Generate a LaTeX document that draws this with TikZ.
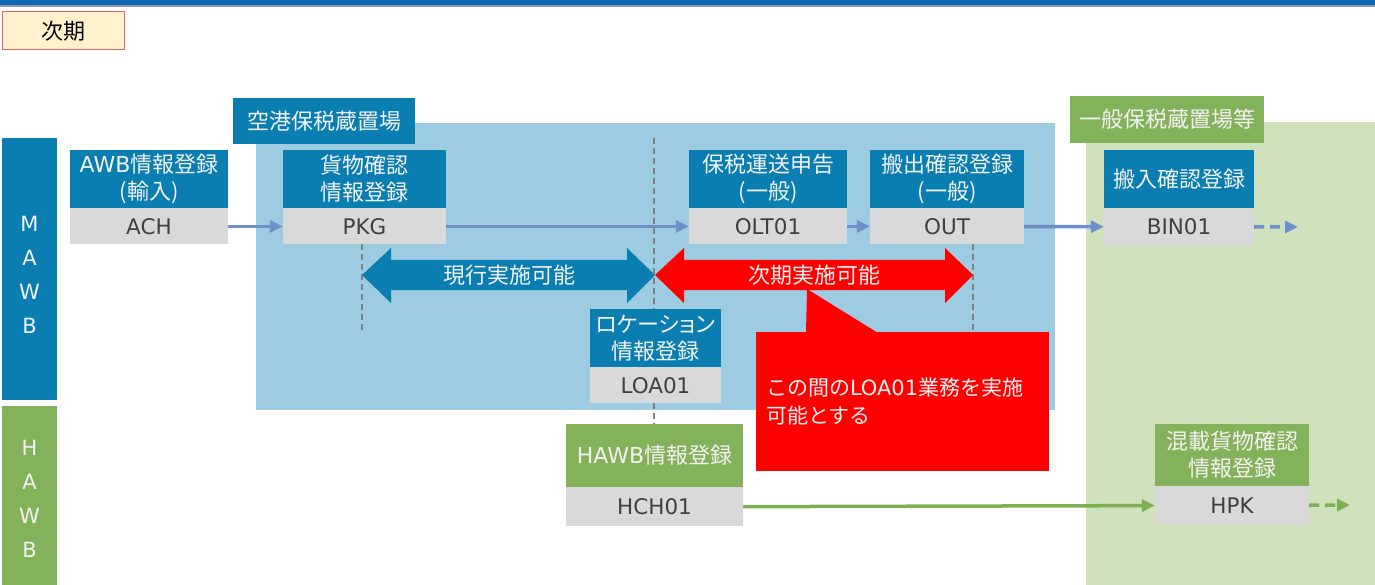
\documentclass[tikz,border=0pt]{standalone}
\usepackage{fontspec}
\newfontfamily\jpfont{Noto Sans CJK JP}
\newfontfamily\jpprop[RawFeature=+palt]{Noto Sans CJK JP}
\newfontfamily\latfont{DejaVu Sans}
\usetikzlibrary{positioning,arrows.meta}
\definecolor{topblue}{HTML}{1168B4}
\definecolor{topgrey}{HTML}{8E9AA6}
\definecolor{hdrblue}{HTML}{0A7EB1}
\definecolor{hdrgreen}{HTML}{84B25A}
\definecolor{areablue}{HTML}{9DCBE1}
\definecolor{areagreen}{HTML}{D0E1BD}
\definecolor{codegrey}{HTML}{D9D9D9}
\definecolor{codetext}{HTML}{404040}
\definecolor{flowblue}{HTML}{6E8FC9}
\definecolor{flowgreen}{HTML}{7DB050}
\definecolor{notered}{HTML}{FF0000}
\definecolor{tagfill}{HTML}{FFF2CC}
\definecolor{tagline}{HTML}{E06666}
\newcommand{\lt}[1]{{\latfont #1}}

\begin{document}
\begin{tikzpicture}[x=1pt,y=-1pt,
  big/.style={font=\jpfont\fontsize{22}{27}\selectfont},
  hdr/.style={big,fill=hdrblue,text=white!95!black,inner sep=0pt,align=center,minimum height=58pt},
  hdrg/.style={hdr,fill=hdrgreen},
  code/.style={fill=codegrey,text=codetext,inner sep=0pt,minimum height=36pt,
    font=\latfont\fontsize{21.5}{27}\selectfont},
  bar/.style={inner sep=0pt,minimum width=55pt},
  bartext/.style={text=white!95!black,inner sep=0pt,align=center,
    font=\latfont\fontsize{21}{34}\selectfont},
  area/.style={big,text=white!95!black,inner sep=0pt},
  flow/.style={flowblue,line width=3.5pt,-{Triangle[length=13pt,width=12pt]}},
  vdash/.style={gray,line width=2pt,dash pattern=on 6pt off 4pt},
  every node/.style={node distance=0pt}]
\useasboundingbox (0,0) rectangle (1375,585);
\fill[topblue] (0,0) rectangle (1375,5);
\fill[topgrey] (0,5) rectangle (1375,7);
\node[big,fill=tagfill,draw=tagline,line width=1pt,minimum width=122pt,minimum height=38pt,inner sep=0pt] (tag) at (63,31) {次期};
%
% areas
\fill[areablue] (256,123) rectangle (1055,410);
\fill[areagreen] (1086,122) rectangle (1375,585);
\node[area,fill=hdrblue,minimum width=182pt,minimum height=46pt] (airport) at (324,121) {空港保税蔵置場};
\node[area,fill=hdrgreen,minimum width=194pt,minimum height=47pt] (general) at (1167,119.5) {一般保税蔵置場等};
%
\node[bar,fill=hdrblue,minimum height=262pt] (mawb) at (29.5,269) {};
\node[bartext] (mawbtxt) at (29.5,275) {M\\A\\W\\B};
\node[bar,fill=hdrgreen,minimum height=179pt] (hawb) at (29.5,495.5) {};
\node[bartext] (hawbtxt) at (29.5,499) {H\\A\\W\\B};
%
% dashed marks
\draw[vdash] (362,244) -- (362,330);
\draw[vdash] (654,138) -- (654,309);
\draw[vdash] (654,403) -- (654,424);
\draw[vdash] (973,244) -- (973,330);
%
% process boxes
\node[hdr,minimum width=158pt] (achT) at (149,179) {\lt{AWB}情報登録\\(輸入)};
\node[code,minimum width=158pt,below=of achT] (ach) {ACH};
\node[hdr,minimum width=163pt] (pkgT) at (364.5,179) {貨物確認\\情報登録};
\node[code,minimum width=163pt,below=of pkgT] (pkg) {PKG};
\node[hdr,minimum width=158pt] (oltT) at (768,179) {保税運送申告\\(一般)};
\node[code,minimum width=158pt,below=of oltT] (olt) {OLT01};
\node[hdr,minimum width=154pt] (outT) at (947,179) {搬出確認登録\\(一般)};
\node[code,minimum width=154pt,below=of outT] (out) {OUT};
\node[hdr,minimum width=150pt] (binT) at (1179,179.5) {搬入確認登録};
\node[code,minimum width=150pt,below=of binT] (bin) {BIN01};
\node[hdr,minimum width=131pt] (loaT) at (655.5,338) {{\jpprop ロケーション}\\情報登録};
\node[code,minimum width=131pt,below=of loaT] (loa) {LOA01};
\node[hdrg,minimum width=177pt,minimum height=63pt] (hchT) at (654.5,455.5) {\lt{HAWB}情報登録};
\node[code,minimum width=177pt,minimum height=39pt,below=of hchT] (hch) {HCH01};
\node[hdrg,minimum width=154pt,minimum height=62pt] (hpkT) at (1232,455) {混載貨物確認\\情報登録};
\node[code,minimum width=154pt,minimum height=38pt,below=of hpkT] (hpk) {HPK};
%
% flows
\draw[flow] (ach) -- (pkg);
\draw[flow] (pkg) -- (olt);
\draw[flow] (olt) -- (out);
\draw[flow] (out) -- (bin);
\coordinate (binnext) at (1298,227);
\draw[flow,dash pattern=on 10pt off 6pt] (bin) -- (binnext);
\draw[flow,flowgreen] (hch) -- (hpk);
\coordinate (hpknext) at (1350,505);
\draw[flow,flowgreen,dash pattern=on 10pt off 6pt] (hpk) -- (hpknext);
%
% range arrows
\fill[hdrblue] (362,275) -- (391,248) -- (391,260) -- (627,260) -- (627,248) -- (655,275)
  -- (627,303) -- (627,290) -- (391,290) -- (391,303) -- cycle;
\node[area] (now) at (509,275) {現行実施可能};
\fill[notered] (655,275) -- (684,248) -- (684,260) -- (945,260) -- (945,248) -- (973,275)
  -- (945,303) -- (945,290) -- (684,290) -- (684,303) -- cycle;
\node[area] (next) at (814,275) {次期実施可能};
%
% note
\fill[notered] (806,333) -- (807,289) -- (878,333) -- cycle;
\node[fill=notered,text=white!95!black,minimum width=293pt,minimum height=139pt,inner xsep=10pt,
  text width=273pt,align=left,font=\jpfont\fontsize{21}{28}\selectfont] (note) at (902.5,401.5)
  {この間の\lt{LOA01}業務を実施\\可能とする};
\end{tikzpicture}
\end{document}
